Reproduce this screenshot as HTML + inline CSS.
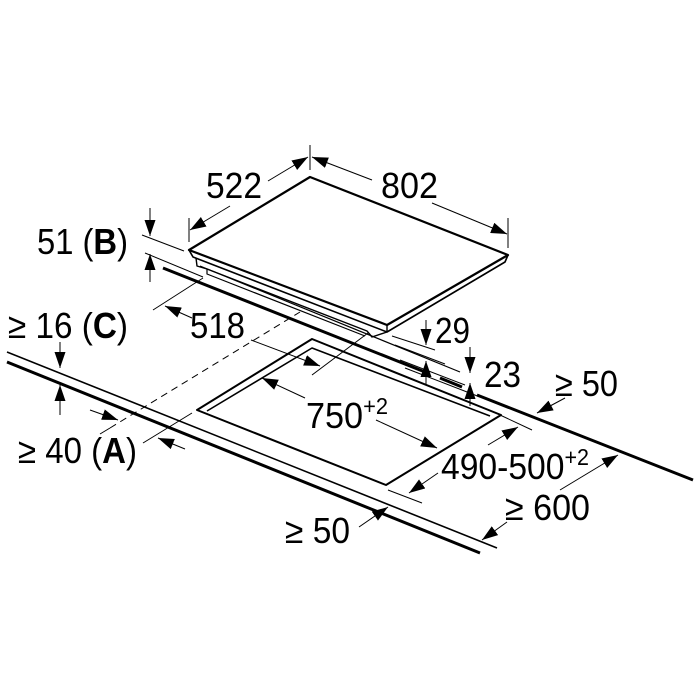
<!DOCTYPE html>
<html><head><style>html,body{margin:0;padding:0;background:#fff}svg{display:block}text{font-family:"Liberation Sans",sans-serif;fill:#000}</style></head>
<body>
<svg width="700" height="700" viewBox="0 0 700 700" xmlns="http://www.w3.org/2000/svg">
<defs>
<marker id="a" viewBox="0 0 16 11" refX="16" refY="5.5" markerWidth="16" markerHeight="11" markerUnits="userSpaceOnUse" orient="auto"><path d="M0,0 L16,5.5 L0,11 z" fill="#000"/></marker>
</defs>
<g fill="none" stroke="#000" stroke-linejoin="round">
<path d="M310,177 L189,250 L387,325 L508,255 Z" stroke-width="2.2"/>
<path d="M189,250 L193,257 L387,332 L505,262 L508,255" stroke-width="1.6"/>
<path d="M387,325 L387,332" stroke-width="1.4"/>
<path d="M196,258 L197,266 L207,269 L367,331 L372,337 L387,332" stroke-width="1.4"/>
<path d="M207,269 L207,274 L365,336" stroke-width="1.2"/>
<path d="M7,352 L497,548" stroke-width="1.6"/>
<path d="M7,362 L480,553" stroke-width="3"/>
<path d="M163,268 L425,372 M440,378 L462,387 M477,395 L693,480" stroke-width="3"/>
<path d="M200,266 L460,372" stroke-width="1.2"/>
<path d="M312,339 L197,410 L386,485 L501,415 Z" stroke-width="2"/>
<path d="M207,411 L312,348 L490,416" stroke-width="1.6"/>
<path d="M110,428 L300,312" stroke-width="1" stroke-dasharray="7,5"/>
<g stroke-width="1">
<path d="M310,145 L310,170 M189,218 L189,242 M508,218 L508,248"/>
<path d="M230,206 L190,230" marker-end="url(#a)"/>
<path d="M268,181 L308,157" marker-end="url(#a)"/>
<path d="M372,180 L312,157" marker-end="url(#a)"/>
<path d="M432,203 L507,234" marker-end="url(#a)"/>
<path d="M142,235 L184,251 M145,253 L203,277"/>
<path d="M150,208 L150,236" marker-end="url(#a)"/>
<path d="M150,282 L150,254" marker-end="url(#a)"/>
<path d="M153,310 L203,278"/>
<path d="M192,318 L165,306" marker-end="url(#a)"/>
<path d="M251,340 L320,366" marker-end="url(#a)"/>
<path d="M312,375 L368,333"/>
<path d="M60,342 L60,368" marker-end="url(#a)"/>
<path d="M60,415 L60,385" marker-end="url(#a)"/>
<path d="M143,443 L192,413 M110,428 L100,434"/>
<path d="M90,410 L118,420" marker-end="url(#a)"/>
<path d="M185,449 L158,438" marker-end="url(#a)"/>
<path d="M392,336 L435,350 M395,345 L445,364 M400,360 L465,385 M405,368 L480,397"/>
<path d="M426,320 L426,345" marker-end="url(#a)"/>
<path d="M426,384 L426,361" marker-end="url(#a)"/>
<path d="M470,347 L470,373" marker-end="url(#a)"/>
<path d="M470,406 L470,383" marker-end="url(#a)"/>
<path d="M565,398 L537,413" marker-end="url(#a)"/>
<path d="M500,415 L532,430 M388,490 L422,503"/>
<path d="M488,445 L518,427" marker-end="url(#a)"/>
<path d="M438,473 L409,493" marker-end="url(#a)"/>
<path d="M305,398 L262,378" marker-end="url(#a)"/>
<path d="M376,420 L437,448" marker-end="url(#a)"/>
<path d="M560,490 L618,455" marker-end="url(#a)"/>
<path d="M507,522 L482,540" marker-end="url(#a)"/>
<path d="M359,527 L388,507" marker-end="url(#a)"/>
</g>
</g>
<g font-size="36">
<text x="206" y="198" textLength="56" lengthAdjust="spacingAndGlyphs">522</text>
<text x="381" y="198" textLength="57" lengthAdjust="spacingAndGlyphs">802</text>
<text x="37" y="254" textLength="91" lengthAdjust="spacingAndGlyphs">51 (<tspan font-weight="bold">B</tspan>)</text>
<text x="190" y="338" textLength="55" lengthAdjust="spacingAndGlyphs">518</text>
<text x="8" y="338" textLength="120" lengthAdjust="spacingAndGlyphs">≥ 16 (<tspan font-weight="bold">C</tspan>)</text>
<text x="18" y="463" textLength="119" lengthAdjust="spacingAndGlyphs">≥ 40 (<tspan font-weight="bold">A</tspan>)</text>
<text x="435" y="343" textLength="35" lengthAdjust="spacingAndGlyphs">29</text>
<text x="484" y="387" textLength="37" lengthAdjust="spacingAndGlyphs">23</text>
<text x="555" y="396" textLength="63" lengthAdjust="spacingAndGlyphs">≥ 50</text>
<text x="306" y="428" textLength="82" lengthAdjust="spacingAndGlyphs">750<tspan font-size="23" dy="-14">+2</tspan></text>
<text x="441" y="479" textLength="148" lengthAdjust="spacingAndGlyphs">490-500<tspan font-size="23" dy="-14">+2</tspan></text>
<text x="505" y="520" textLength="85" lengthAdjust="spacingAndGlyphs">≥ 600</text>
<text x="285" y="543" textLength="65" lengthAdjust="spacingAndGlyphs">≥ 50</text>
</g>
</svg>
</body></html>
